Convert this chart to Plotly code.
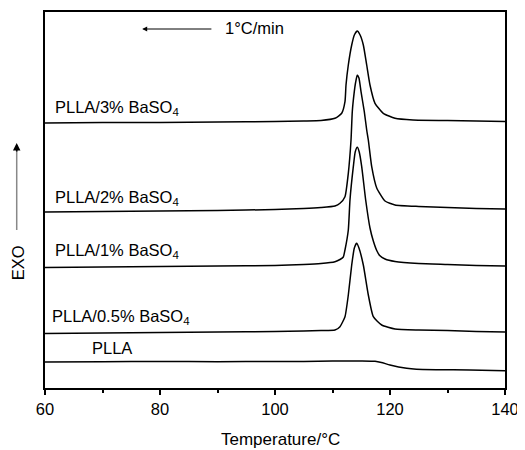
import plotly.graph_objects as go

# Temperature (°C) and heat flow (a.u., exo up, curves vertically offset)
T_3 = [60, 70, 80, 90, 100, 105, 108, 110.43, 111.6, 112.17, 112.35, 112.75, 113.34, 113.8,
       114.31, 114.8, 115.36, 115.95, 116.52, 117.39, 118.83, 120.87, 124, 130, 135, 140]
H_3 = [265, 265.5, 265.5, 266, 266.5, 267, 267.5, 269.7, 274.7, 286.3, 303, 323, 343, 353,
       357, 353, 343, 323, 303, 284.7, 274.7, 269.7, 268, 267.5, 267, 266.5]

T_2 = [60, 70, 80, 90, 100, 105, 108, 110.43, 111.3, 112.17, 112.75, 113.22, 113.44, 113.79,
       114.0, 114.31, 114.6, 114.96, 115.53, 115.95, 116.23, 116.82, 117.69, 119.13, 120.87,
       125, 130, 135, 140]
H_2 = [176, 176.5, 177, 177.5, 178.5, 179.5, 180.5, 182, 184.7, 191.3, 214.7, 248, 276.3, 296.3,
       305, 313, 310, 296.3, 276.3, 258, 248, 221.3, 200, 187, 183,
       181.5, 180.5, 179.5, 179]

T_1 = [60, 70, 80, 90, 100, 105, 108, 110.43, 111.3, 111.88, 112.17, 112.75, 113.04, 113.62,
       113.95, 114.31, 114.65, 115.08, 115.77, 116.52, 117.1, 117.69, 118.2, 119.13, 120.87,
       125, 130, 135, 140]
H_1 = [120.5, 121, 121.5, 122, 122.5, 123.5, 124.5, 126.3, 128.5, 131, 138, 158, 188, 221.3,
       236, 240.7, 236, 221.3, 188, 160, 147, 137.5, 132.5, 129, 126.5,
       124.5, 123.5, 122.5, 122]

T_05 = [60, 70, 80, 90, 100, 105, 108, 110.43, 111.3, 112.17, 112.75, 113.34, 113.8, 114.2,
        114.6, 115.36, 116.23, 117.1, 118.56, 120.87, 125, 130, 135, 140]
H_05 = [54.5, 55, 55.5, 56, 56.5, 57, 57.5, 58, 61.3, 71.3, 93, 123, 140, 144.7,
        140, 123, 93, 71.3, 63, 59, 58, 57.5, 56.5, 56]

T_0 = [60, 70, 80, 90, 100, 105, 110, 115, 117.4, 118.5, 120, 122.9, 124.6, 128, 133.9, 140]
H_0 = [26, 26.3, 26.5, 26.3, 26.5, 26.5, 27, 27, 26.7, 25.5, 23, 19.7, 18.7, 18.3, 18, 17.3]

series = [(T_3, H_3), (T_2, H_2), (T_1, H_1), (T_05, H_05), (T_0, H_0)]

labels = ["PLLA/3% BaSO<sub>4</sub>", "PLLA/2% BaSO<sub>4</sub>", "PLLA/1% BaSO<sub>4</sub>",
          "PLLA/0.5% BaSO<sub>4</sub>", "PLLA"]
label_x = [61.4, 61.4, 61.4, 60.9, 67.8]
label_y = [280.5, 190.5, 137, 71, 39.7]

x_ticks = [60, 80, 100, 120, 140]

FONT = "Liberation Sans, Arial, sans-serif"

fig = go.Figure()
for t, h in series:
    fig.add_trace(go.Scatter(x=t, y=h, mode="lines",
                             line=dict(color="black", width=1.5, shape="spline", smoothing=0.5),
                             showlegend=False, hoverinfo="skip"))

for lab, lx, ly in zip(labels, label_x, label_y):
    fig.add_annotation(x=lx, y=ly, text=lab, showarrow=False, xanchor="left", yanchor="middle",
                       font=dict(family=FONT, size=16.5, color="black"))

# heating rate annotation
fig.add_annotation(x=91, y=359.7, text="1°C/min", showarrow=False, xanchor="left",
                   yanchor="middle", font=dict(family=FONT, size=16.5, color="black"))
fig.add_annotation(x=76.9, y=359, ax=89.2, ay=359, axref="x", ayref="y", xref="x", yref="y",
                   text="", showarrow=True, arrowhead=2, arrowsize=1, arrowwidth=1,
                   arrowcolor="black")

# EXO arrow and label
fig.add_shape(type="line", xref="paper", yref="y", x0=-0.0615, x1=-0.0615, y0=158, y1=240,
              line=dict(color="#888888", width=1.5))
fig.add_annotation(xref="paper", yref="y", x=-0.0615, y=245, axref="pixel", ayref="pixel",
                   ax=0, ay=10, text="", showarrow=True, arrowhead=2, arrowsize=1,
                   arrowwidth=1.5, arrowcolor="black")
fig.add_annotation(xref="paper", yref="y", x=-0.058, y=125, text="EXO", textangle=-90,
                   showarrow=False, xanchor="center", yanchor="middle",
                   font=dict(family=FONT, size=16.5, color="black"))

# x-axis title
fig.add_annotation(xref="paper", yref="paper", x=0.511, y=-0.137, text="Temperature/°C",
                   showarrow=False, xanchor="center", yanchor="middle",
                   font=dict(family=FONT, size=17, color="black"))

fig.update_xaxes(range=[60, 140], tickvals=x_ticks, ticks="outside", ticklen=5, tickwidth=1.5,
                 tickcolor="black", automargin=False, ticklabeloverflow="allow",
                 minor=dict(dtick=10, tick0=60, ticks="outside", ticklen=3, tickwidth=1.5,
                            tickcolor="black", showgrid=False),
                 showline=True, linecolor="black", linewidth=1.5, mirror=True, showgrid=False,
                 zeroline=False,
                 tickfont=dict(family=FONT, size=16.5, color="black"))
fig.update_yaxes(range=[0, 376], showticklabels=False, ticks="", showline=True,
                 automargin=False,
                 linecolor="black", linewidth=1.5, mirror=True, showgrid=False, zeroline=False)

# the page body adds an ~8px margin, so the figure is sized/offset to compensate
fig.update_layout(width=517, height=450, margin=dict(l=37, r=20, t=4, b=70),
                  plot_bgcolor="white", paper_bgcolor="white",
                  font=dict(family=FONT, color="black"))

fig.write_html("out.html")
